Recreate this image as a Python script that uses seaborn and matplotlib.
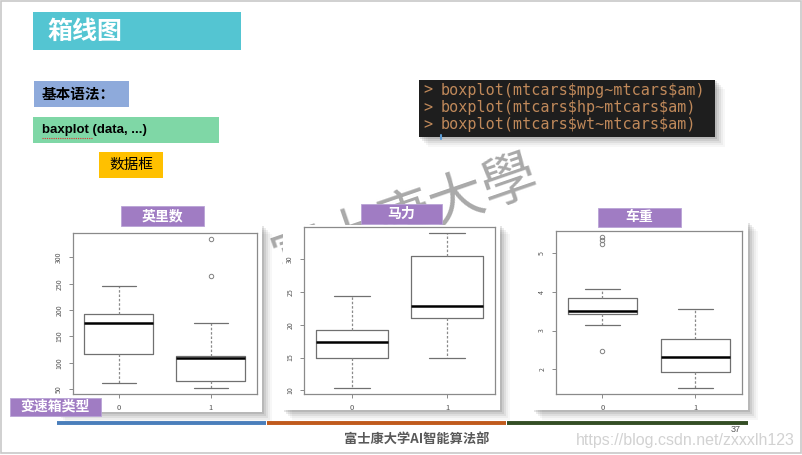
import matplotlib
matplotlib.use("Agg")
import matplotlib.pyplot as plt
import matplotlib.patches as mpatches
import matplotlib.ticker as mticker
import pandas as pd
import seaborn as sns

sns.set_style("white")
plt.rcParams["font.family"] = ["Noto Sans CJK SC", "DejaVu Sans"]
plt.rcParams["axes.unicode_minus"] = False

# mtcars 变速箱类型 (0 = 自动, 1 = 手动)
am_labels = ["0", "1"]

hp_am0 = [110, 175, 105, 245, 62, 95, 123, 123, 180, 180, 180, 205, 215, 230, 97, 150, 150, 245, 175]
hp_am1 = [110, 110, 93, 66, 52, 65, 66, 91, 113, 264, 175, 335, 109]

mpg_am0 = [21.4, 18.7, 18.1, 14.3, 24.4, 22.8, 19.2, 17.8, 16.4, 17.3, 15.2, 10.4, 10.4, 14.7, 21.5, 15.5, 15.2, 13.3, 19.2]
mpg_am1 = [21.0, 21.0, 22.8, 32.4, 30.4, 33.9, 27.3, 26.0, 30.4, 15.8, 19.7, 15.0, 21.4]

wt_am0 = [3.215, 3.440, 3.460, 3.570, 3.190, 3.150, 3.440, 3.440, 4.070, 3.730, 3.780, 5.250, 5.424, 5.345, 2.465, 3.520, 3.435, 3.840, 3.845]
wt_am1 = [2.620, 2.875, 2.320, 2.200, 1.615, 1.835, 1.935, 2.140, 1.513, 3.170, 2.770, 3.570, 2.780]

panel_titles = ["英里数", "马力", "车重"]
code_lines = [
    "boxplot(mtcars$mpg~mtcars$am)",
    "boxplot(mtcars$hp~mtcars$am)",
    "boxplot(mtcars$wt~mtcars$am)",
]

W, H = 803, 455
fig = plt.figure(figsize=(W / 100, H / 100), dpi=100)
fig.patch.set_facecolor("white")

# 整个幻灯片的背景层 (像素坐标)
bg = fig.add_axes([0, 0, 1, 1])
bg.set_xlim(0, W)
bg.set_ylim(H, 0)
bg.axis("off")


def box(x0, y0, x1, y1, color, z=2, **kw):
    bg.add_patch(mpatches.Rectangle((x0, y0), x1 - x0, y1 - y0, facecolor=color,
                                    edgecolor=kw.pop("ec", "none"), zorder=z, **kw))


def shadow(x0, y0, x1, y1, z=1):
    for i, a in enumerate([0.10, 0.08, 0.06, 0.04, 0.03]):
        d = 2 + i * 2
        box(x0 + d - 1, y0 + d - 1, x1 + d, y1 + d, "black", z=z, alpha=a)


# 幻灯片边框
box(1, 1, W - 2, H - 2, "none", z=0, ec="#c8c8c8", lw=1.2)

# 标题
box(33, 12, 241, 50, "#54c5d2")
bg.text(48, 32, "箱线图", color="white", fontsize=18, fontweight="bold", va="center", zorder=3)

box(34, 81, 129, 107, "#8eaadb")
bg.text(42, 94, "基本语法：", color="black", fontsize=10.5, fontweight="bold", va="center", zorder=3)

box(33, 117, 219, 143, "#7fd7a6")
bg.text(42, 130, "baxplot (data, ...)", color="black", fontsize=9.5, fontweight="bold",
        va="center", family=["Liberation Sans", "DejaVu Sans"], zorder=3)
bg.plot([42, 93], [138, 138], color="#e03030", lw=0.8, ls=(0, (1, 1)), zorder=3)

box(99, 152, 163, 178, "#ffc000")
bg.text(131, 165, "数据框", color="black", fontsize=10.5, va="center", ha="center", zorder=3)

# R 代码窗口
shadow(419, 80, 715, 137)
box(419, 80, 715, 137, "#1e1e1e", z=2)
for i, line in enumerate(code_lines):
    y = 90 + i * 17.5
    bg.text(423, y, ">", color="#c0895a", fontsize=10.9, family="DejaVu Sans Mono",
            va="center", zorder=3, parse_math=False)
    bg.text(441, y, line, color="#c0895a", fontsize=10.9, family="DejaVu Sans Mono",
            va="center", zorder=3, parse_math=False)
bg.plot([441, 441], [135, 139], color="#5a9bd5", lw=1.5, zorder=3)

# 水印
bg.text(405, 218, "富士康大學", fontsize=40, color="#8c8c8c", alpha=0.75, rotation=19,
        ha="center", va="center", family=["Noto Sans CJK TC", "DejaVu Sans"], zorder=1.5)

# 三个箱线图面板
panels = [
    ((56, 225, 262, 412), (73, 233, 257, 394), hp_am0, hp_am1, 50, (121, 206, 204, 226)),
    ((283, 225, 500, 410), (304, 227, 495, 394), mpg_am0, mpg_am1, 5, (361, 204, 442, 224)),
    ((533, 222, 748, 410), (556, 231, 742, 394), wt_am0, wt_am1, 1, (598, 208, 681, 227)),
]

for k, (frame, axbox, g0, g1, step, lab) in enumerate(panels):
    shadow(*frame, z=1.6)
    box(*frame, "white", z=1.8)
    box(*lab, "#a07cc3", z=4, ec="#b9a3d6", lw=0.6)
    bg.text((lab[0] + lab[2]) / 2, (lab[1] + lab[3]) / 2, panel_titles[k], color="white",
            fontsize=10, fontweight="bold", ha="center", va="center", zorder=5)

    df = pd.DataFrame({
        "am": [am_labels[0]] * len(g0) + [am_labels[1]] * len(g1),
        "val": g0 + g1,
    })
    x0, y0, x1, y1 = axbox
    ax = fig.add_axes([x0 / W, 1 - y1 / H, (x1 - x0) / W, (y1 - y0) / H])
    sns.boxplot(data=df, x="am", y="val", order=am_labels, ax=ax, fill=False,
                color="#707070", width=0.75, linewidth=0.9, whis=1.5,
                medianprops=dict(color="black", linewidth=1.8),
                whiskerprops=dict(linestyle=(0, (2, 1.5)), color="#8a8a8a"),
                flierprops=dict(marker="o", markersize=3.2, markerfacecolor="none",
                                markeredgecolor="#808080", markeredgewidth=0.7))
    lo, hi = min(g0 + g1), max(g0 + g1)
    pad = (hi - lo) * 0.04
    ax.set_ylim(lo - pad, hi + pad)
    ax.set_xlim(-0.5, 1.5)
    ax.yaxis.set_major_locator(mticker.MultipleLocator(step))
    ax.set_xlabel("")
    ax.set_ylabel("")
    ax.set_facecolor("white")
    for s in ax.spines.values():
        s.set_color("#8a8a8a")
        s.set_linewidth(0.9)
    ax.tick_params(axis="both", direction="out", length=3, width=0.7, color="#8a8a8a",
                   labelsize=5, labelcolor="#555555", left=True, bottom=True)
    ax.tick_params(axis="x", labelsize=5.5, pad=4)
    for t in ax.get_yticklabels():
        t.set_rotation(90)
        t.set_va("center")
    ax.tick_params(axis="y", pad=4)

# 变速箱类型标签
box(10, 398, 101, 416, "#a07cc3", z=4, ec="#b9a3d6", lw=0.6)
bg.text(55.5, 407, "变速箱类型", color="white", fontsize=10, fontweight="bold",
        ha="center", va="center", zorder=5)

# 底部彩色分隔线
bg.plot([57, 266], [422.5, 422.5], color="#4a7ebb", lw=2.8, solid_capstyle="butt", zorder=3)
bg.plot([267, 506], [422.5, 422.5], color="#c05a1c", lw=2.8, solid_capstyle="butt", zorder=3)
bg.plot([507, 748], [422.5, 422.5], color="#344e25", lw=2.8, solid_capstyle="butt", zorder=3)

bg.text(417, 439, "富士康大学AI智能算法部", color="#595959", fontsize=9.5, fontweight="bold",
        ha="center", va="center", zorder=3)
bg.text(685, 440, "https://blog.csdn.net/zxxxlh123", color="#d2d2d2", fontsize=11.5,
        ha="center", va="center", family=["Liberation Sans Narrow", "Liberation Sans", "DejaVu Sans"], zorder=3)
bg.text(736, 429, "37", color="#555555", fontsize=6.5, ha="center", va="center", zorder=4,
        family=["Liberation Sans", "DejaVu Sans"])

fig.savefig("out.png", dpi=100, facecolor="white")
